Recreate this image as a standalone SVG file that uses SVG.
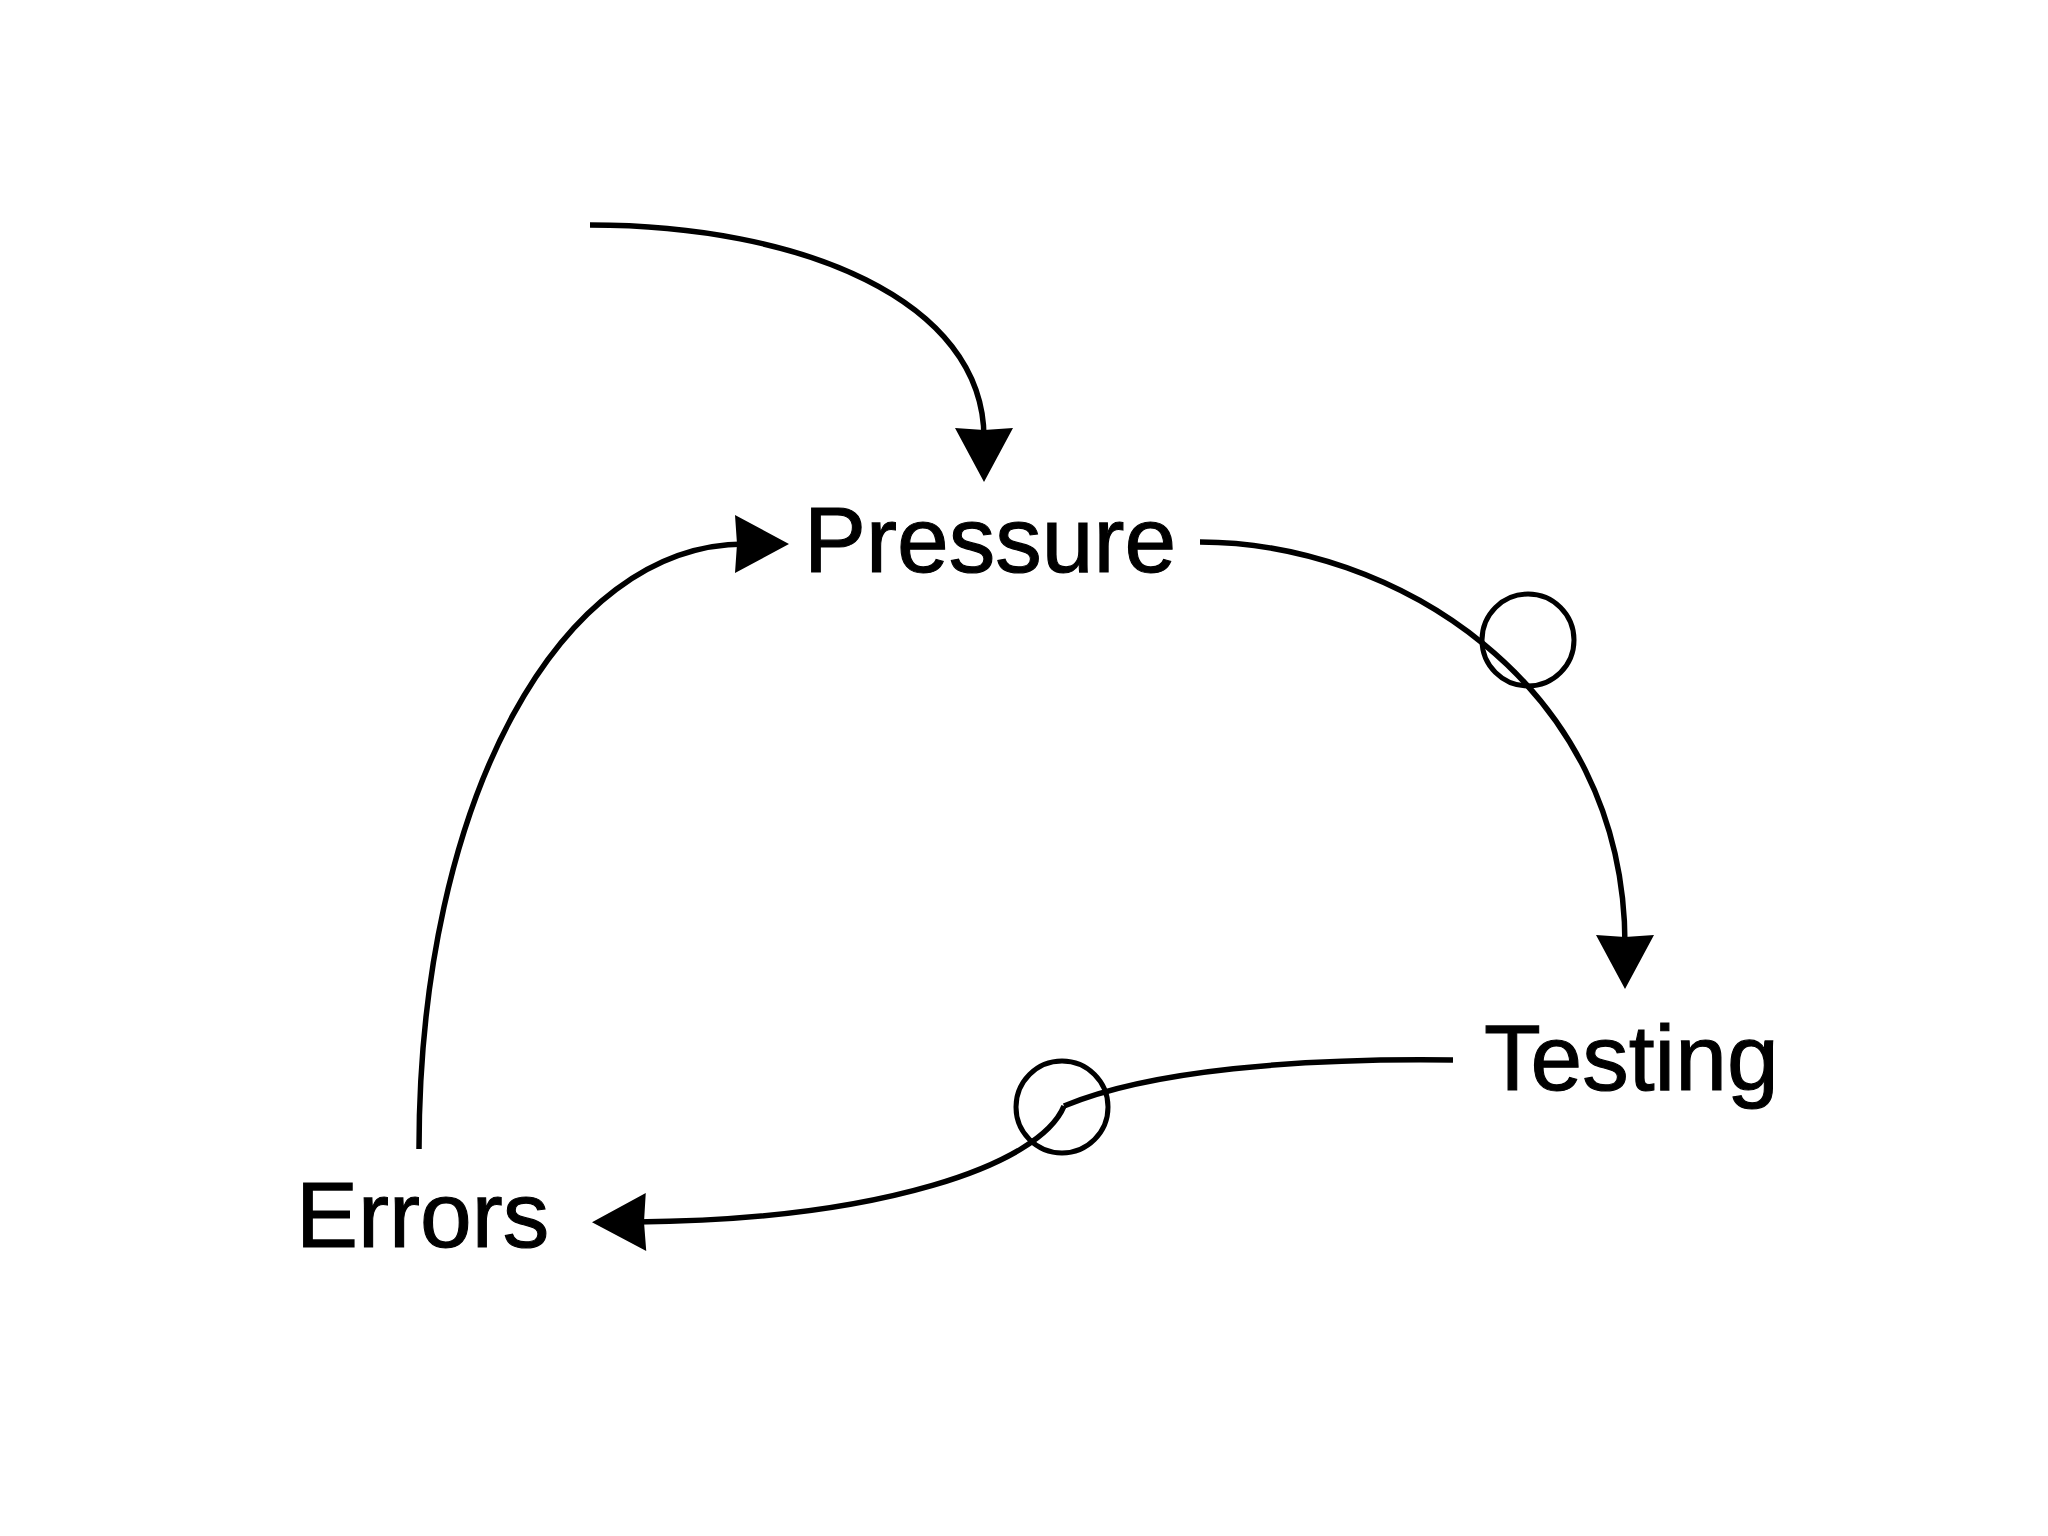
<svg xmlns="http://www.w3.org/2000/svg" width="2048" height="1536" viewBox="0 0 2048 1536">
<style>
.lbl{font-family:"Liberation Sans",Arial,Helvetica,sans-serif;font-size:93px;fill:#000;stroke:#000;stroke-width:1.1}
.edge{fill:none;stroke:#000;stroke-width:5.5}
.pol{fill:none;stroke:#000;stroke-width:5}
</style>
<defs>
<marker id="arr" markerUnits="userSpaceOnUse" markerWidth="60" markerHeight="64" refX="10" refY="30" orient="auto" overflow="visible">
<path d="M0,1 L54,30 L0,59 L2,30 z" fill="#000"/>
</marker>
</defs>
<rect width="2048" height="1536" fill="#fff"/>
<g id="connectors">
<path class="edge" d="M590,225 C800,225 984,300 984,438" marker-end="url(#arr)"/>
<path class="edge" d="M1200,542 C1390,542 1625,680 1625,945" marker-end="url(#arr)"/>
<circle class="pol" cx="1528" cy="640" r="46"/>
<path class="edge" d="M1453,1060 C1300,1058 1150,1070 1064,1106"/>
<path class="edge" d="M1064,1106 C1040,1165 880,1220 636,1222" marker-end="url(#arr)"/>
<circle class="pol" cx="1062" cy="1107" r="46"/>
<path class="edge" d="M419,1149 C419,800 560,544 745,544" marker-end="url(#arr)"/>
</g>
<g id="pressure"><text class="lbl" x="804" y="572">Pressure</text></g>
<g id="testing"><text class="lbl" x="1484" y="1090">Testing</text></g>
<g id="errors"><text class="lbl" x="296" y="1247">Errors</text></g>
</svg>
